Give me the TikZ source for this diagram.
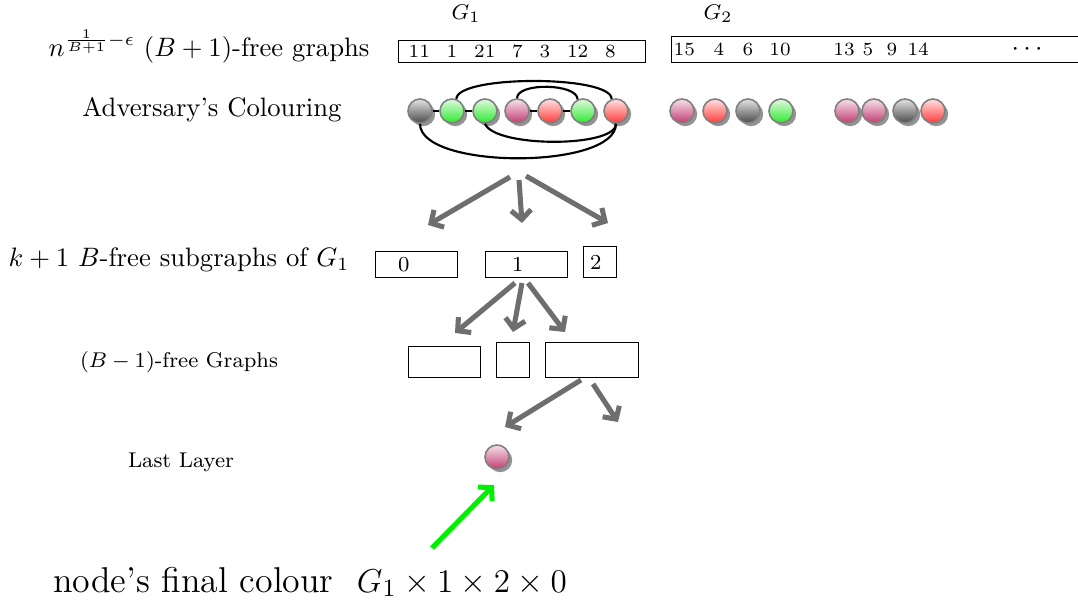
\documentclass[tikz,border=0pt]{standalone}
\usepackage{tikz}
\usetikzlibrary{arrows.meta,positioning,shadows}

\definecolor{ballgrey}{HTML}{4A4A4A}
\definecolor{ballgreen}{HTML}{2EE82E}
\definecolor{ballpink}{HTML}{C43C72}
\definecolor{ballred}{HTML}{FF3B3B}
\definecolor{splitgrey}{HTML}{6E6E6E}
\definecolor{markgreen}{HTML}{00F000}
\newcommand{\numsep}{\hspace{6.3pt}}

\begin{document}
\begin{tikzpicture}[
  x=0.375pt, y=0.375pt,
  ball/.style={circle, minimum size=9pt, inner sep=0pt, draw=gray, line width=0.6pt,
    top color=#1!15!white, bottom color=#1,
    drop shadow={shadow xshift=1.2pt, shadow yshift=-1.2pt, fill=gray!85, opacity=1}},
  numbox/.style={draw, line width=0.5pt, anchor=north west, align=left, inner ysep=0pt, font=\scriptsize},
  subbox/.style={draw, line width=0.5pt, anchor=north west, align=left, inner ysep=0pt, font=\footnotesize},
  emptybox/.style={draw, line width=0.5pt, anchor=north west, inner sep=0pt},
  tag/.style={anchor=base, inner sep=0pt},
  edge/.style={line width=0.8pt},
  split/.style={-{Straight Barb[length=3.5pt,width=7.5pt]}, line width=1.9pt, draw=splitgrey},
  pick/.style={-{Straight Barb[length=3.5pt,width=7.5pt]}, line width=1.9pt, draw=markgreen}
]
\clip (0,0) rectangle (1078,-609);

% row labels
\node[tag] (lblfree) at (209,-57) {$n^{\frac{1}{B+1}-\epsilon}$ $(B+1)$-free graphs};
\node[tag] (lbladv) at (212,-117) {Adversary's Colouring};
\node[tag] (lblsub) at (179,-267) {$k+1$ $B$-free subgraphs of $G_1$};
\node[tag, font=\footnotesize] (lblminus) at (179,-367) {$(B-1)$-free Graphs};
\node[tag, font=\footnotesize] (lbllast) at (181,-467) {Last Layer};
\node[tag, font=\fontsize{13}{15}\selectfont] (lblfinal) at (310,-592)
  {\scalebox{1.035}{node's final colour\ \ $G_1\times1\times2\times0$}};

% the graphs
\node[font=\footnotesize] (glab1) at (466,-14) {$G_1$};
\node[font=\footnotesize] (glab2) at (718,-14) {$G_2$};
\node[numbox, inner xsep=3.75pt, text width=85.1pt, minimum height=8.25pt] (g1box) at (398,-40)
  {11\numsep 1\numsep 21\numsep 7\numsep 3\numsep 12\numsep 8};
\node[numbox, inner xsep=0.75pt, text width=170pt, minimum height=9.75pt] (g2box) at (671,-36)
  {15\hspace{7pt}4\hspace{6.9pt}6\hspace{6.1pt}10\hspace{16pt}13\hspace{3pt}5\hspace{5pt}9\hspace{3.9pt}14\hspace{31pt}{\normalsize$\cdots$}};

% colouring of G_1
\node[ball=ballgrey] (c1) at (420,-111) {};
\node[ball=ballgreen] (c2) at (452,-111) {};
\node[ball=ballgreen] (c3) at (485,-111) {};
\node[ball=ballpink] (c4) at (517,-111) {};
\node[ball=ballred] (c5) at (550,-111) {};
\node[ball=ballgreen] (c6) at (583,-111) {};
\node[ball=ballred] (c7) at (616,-111) {};

\draw[edge] (c1) -- (c2) -- (c3);
\draw[edge] (c4) -- (c5) -- (c6);
\draw[edge] (c2.70) .. controls +(0,24) and +(0,24) .. (c7.110);
\draw[edge] (c4.north) .. controls +(0,16) and +(0,16) .. (c6.115);
\draw[edge] (c3.south) .. controls +(10,-24) and +(0,-24) .. (c7.south);
\draw[edge] (c1.south) .. controls +(0,-46) and +(0,-46) .. (c7.south);

% colouring of G_2 and the rest
\node[ball=ballpink] (r1) at (682,-111) {};
\node[ball=ballred] (r2) at (715,-111) {};
\node[ball=ballgrey] (r3) at (748,-111) {};
\node[ball=ballgreen] (r4) at (781,-111) {};
\node[ball=ballpink] (s1) at (847,-111) {};
\node[ball=ballpink] (s2) at (874,-111) {};
\node[ball=ballgrey] (s3) at (905,-111) {};
\node[ball=ballred] (s4) at (933,-111) {};

% B-free subgraphs
\node[subbox, inner xsep=8.4pt, text width=13.95pt, minimum height=9.75pt] (sub0) at (375,-251) {0};
\node[subbox, inner xsep=9.9pt, text width=10.95pt, minimum height=9.75pt] (sub1) at (485,-251) {1};
\node[subbox, inner xsep=2.4pt, text width=7.6pt, minimum height=11.6pt] (sub2) at (583,-246) {2};

% (B-1)-free graphs
\node[emptybox, minimum width=27pt, minimum height=11.6pt] (fa) at (408,-346) {};
\node[emptybox, minimum width=12.4pt, minimum height=13.1pt] (fb) at (496,-342) {};
\node[emptybox, minimum width=34.9pt, minimum height=13.1pt] (fc) at (545,-342) {};

% last layer
\node[ball=ballpink] (last) at (497,-457) {};

% splitting arrows
\coordinate (sa0) at (510,-177);  \coordinate (ta0) at (428,-225);
\coordinate (sa1) at (519,-180);  \coordinate (ta1) at (522,-223);
\coordinate (sa2) at (526,-176);  \coordinate (ta2) at (608,-223);
\coordinate (sb0) at (515,-283);  \coordinate (tb0) at (455,-333);
\coordinate (sb1) at (522,-283);  \coordinate (tb1) at (513,-332);
\coordinate (sb2) at (528,-283);  \coordinate (tb2) at (565,-332);
\coordinate (sc0) at (581,-380);  \coordinate (tc0) at (505,-427);
\coordinate (sc1) at (593,-384);  \coordinate (tc1) at (618,-422);
\coordinate (gtail) at (432,-548); \coordinate (ghead) at (494,-485);

\draw[split] (sa0) -- (ta0);
\draw[split] (sa1) -- (ta1);
\draw[split] (sa2) -- (ta2);
\draw[split] (sb0) -- (tb0);
\draw[split] (sb1) -- (tb1);
\draw[split] (sb2) -- (tb2);
\draw[split] (sc0) -- (tc0);
\draw[split] (sc1) -- (tc1);
\draw[pick] (gtail) -- (ghead);
\end{tikzpicture}
\end{document}
